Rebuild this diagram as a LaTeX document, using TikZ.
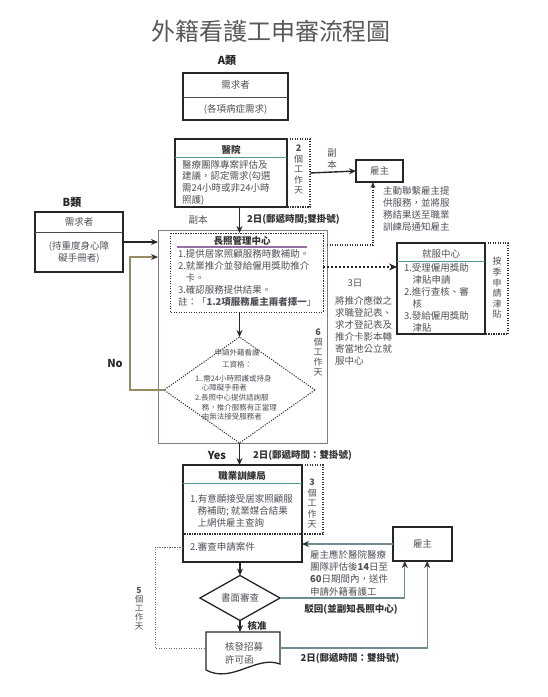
\documentclass[tikz,border=0pt]{standalone}
\usepackage{fontspec}
\setmainfont{Noto Sans CJK TC}
\usetikzlibrary{arrows.meta,shapes.geometric,calc}
\definecolor{txtc}{RGB}{80,80,88}
\definecolor{tealc}{RGB}{80,150,150}
\definecolor{purc}{RGB}{150,110,165}
\definecolor{outc}{RGB}{135,120,145}
\definecolor{olivec}{RGB}{150,140,100}
\definecolor{lnc}{RGB}{110,140,145}
\begin{document}
\begin{tikzpicture}[x=1pt,y=-1pt,
  every node/.style={inner sep=0pt, outer sep=0pt},
  boxs/.style={draw=black!85, line width=1.3pt, anchor=north west},
  ghost/.style={anchor=north west},
  tx/.style={text=txtc, font=\fontsize{9.5}{12}\selectfont, align=left},
  txc/.style={text=txtc, font=\fontsize{9.5}{12}\selectfont, align=center},
  ttl/.style={text=black!80, font=\fontsize{9.5}{12}\selectfont\bfseries},
  vt/.style={text=txtc, font=\fontsize{9}{10.5}\selectfont, align=center},
  lbl/.style={text=black!85, font=\fontsize{11}{13}\selectfont\bfseries},
  arr/.style={draw=black!85, line width=1.4pt, -{Stealth[length=7pt,width=6pt]}},
  thinarr/.style={line width=1.1pt, -{Stealth[length=7pt,width=6pt,color=black!80]}},
  dots/.style={draw=black!80, line width=1.2pt, dash pattern=on 1.2pt off 1.3pt},
  sep/.style={draw=tealc, line width=1pt}
]
\useasboundingbox (0,0) rectangle (548,697);

% title
\node[text=black!65, font=\fontsize{24}{26}\selectfont] (title) at (271,31) {外籍看護工申審流程圖};
\node[lbl] (alab) at (227,60) {A類};

% A box
\node[boxs, minimum width=105, minimum height=47] (A) at (183,73) {};
\draw[line width=0.8pt, black!70] (183,97) -- (288,97);
\node[txc] (a1) at (235.5,85) {需求者};
\node[txc] (a2) at (235.5,109) {(各項病症需求)};

% hospital
\node[boxs, minimum width=112, minimum height=68] (H) at (175,139) {};
\node[ttl] (h0) at (231,150) {醫院};
\draw[sep] (175,157) -- (287,157);
\node[tx, anchor=north west, font=\fontsize{9.5}{11.8}\selectfont] (h1) at (182,160) {醫療團隊專案評估及\\建議，認定需求(勾選\\需24小時或非24小時\\照護)};
\node[ghost, minimum width=23, minimum height=68] (H2) at (287,139) {};
\draw[dots] (H2.north west) -- (H2.north east) -- (H2.south east) -- (H2.south west);
\node[vt] (h2t) at (298.5,170) {\textbf{2}\\個\\工\\作\\天};

% employer top
\node[boxs, minimum width=47, minimum height=22] (E1) at (356,160) {};
\node[txc] (e1t) at (E1.center) {雇主};
\draw[arr] (H2.east) -- (E1.west);
\node[txc] (fb1) at (332,159) {副\\本};
\node[tx, anchor=north west] (e1note) at (383,187) {主動聯繫雇主提\\供服務，並將服\\務結果送至職業\\訓練局通知雇主};

% B
\node[lbl] (blab) at (72,202) {B類};
\node[boxs, minimum width=88, minimum height=60] (B) at (35,212) {};
\draw[line width=0.8pt, black!70] (35,232) -- (123,232);
\node[txc] (b1) at (79,222) {需求者};
\node[txc] (b2) at (79,252) {(持重度身心障\\礙手冊者)};

% long-term care outer and inner
\node[ghost, draw=outc, line width=1pt, minimum width=169, minimum height=213] (LTC) at (158,230) {};
\node[ghost, minimum width=153, minimum height=79] (LTCin) at (170,233) {};
\draw[dots, line width=1pt] (LTCin.north west) rectangle (LTCin.south east);
\node[ttl] (l0) at (242,241) {長照管理中心};
\draw[purc, line width=1.2pt] (177,247) -- (307,247);
\node[tx, anchor=north west] (l1) at (178,249) {1.提供居家照顧服務時數補助。\\2.就業推介並發給僱用獎助推介\\\hspace*{0.8em}卡。\\3.確認服務提供結果。\\註：「\textbf{1.2項服務雇主兩者擇一}」};

% diamond
\node[diamond, minimum width=151, minimum height=106, dots, line width=1pt] (D) at (239.5,390) {};
\node[text=txtc, font=\fontsize{7.5}{12}\selectfont, align=center] (d1) at (237,359) {申請外籍看護\\工資格：};
\node[text=txtc, font=\fontsize{7.5}{9.6}\selectfont, align=left, anchor=north west] (d2) at (195,375) {1..需24小時照護或持身\\\hspace*{0.9em}心障礙手冊者\\2.長照中心提供諮詢服\\\hspace*{0.9em}務，推介服務有正當理\\\hspace*{0.9em}由無法接受服務者};
\node[vt, font=\fontsize{9}{10}\selectfont] (d6) at (318,353) {\textbf{6}\\個\\工\\作\\天};

% hospital -> LTC
\draw[arr] (H.south -| D.north) -- (LTCin.north -| D.north);
\node[txc] (fb2) at (198,220) {副本};
\node[tx, anchor=west, text=black!80, font=\fontsize{9.5}{12}\selectfont\bfseries] (m1) at (247,220) {2日(郵遞時間;雙掛號)};

% B -> LTC
\draw[arr] (B.east) -- (B.east -| LTC.west);

% No loop
\coordinate (p3) at (130,257);
\draw[draw=olivec, thinarr] (D.west) -| (p3) -- (p3 -| LTC.west);
\node[lbl] (no) at (115,363) {No};

% LTC -> diamond
\draw[arr] (LTCin.south -| D.north) -- (D.north);

% LTC -> E1 dotted
\coordinate (p1) at (327,245);
\draw[dots, -{Stealth[length=6pt,width=5pt]}] (p1) -| ($(E1.south west)!0.36!(E1.south east)$);

% employment service center
\node[boxs, minimum width=88, minimum height=91] (JF) at (397,243) {};
\node[txc] (j0) at (441,254) {就服中心};
\draw[sep] (397,261) -- (485,261);
\node[tx, anchor=north west] (j1) at (404,263) {1.受理僱用獎助\\\hspace*{0.9em}津貼申請\\2.進行查核、審\\\hspace*{0.9em}核\\3.發給僱用獎助\\\hspace*{0.9em}津貼};
\node[ghost, minimum width=23, minimum height=91] (JF2) at (485,243) {};
\draw[dots] (JF2.north west) -- (JF2.north east) -- (JF2.south east) -- (JF2.south west);
\node[vt, font=\fontsize{9}{10.6}\selectfont] (j2t) at (497,288) {按\\季\\申\\請\\津\\貼};

\coordinate (p2) at (323,267);
\draw[draw=black!85, line width=2.2pt, dash pattern=on 2pt off 2pt, -{Stealth[length=8pt,width=7pt]}] (p2) -- (p2 -| JF.west);
\node[txc] (d3) at (355,283) {3日};
\node[tx, anchor=north west] (d3t) at (335,296) {將推介應徵之\\求職登記表、\\求才登記表及\\推介卡影本轉\\寄當地公立就\\服中心};

% Yes -> vocational training bureau
\node[boxs, minimum width=119, minimum height=97] (V) at (183,465) {};
\draw[arr] (D.south) -- (D.south |- V.north);
\node[lbl] (yes) at (217,455) {Yes};
\node[tx, anchor=west, text=black!80, font=\fontsize{9.5}{12}\selectfont\bfseries] (m2) at (253,455) {2日(郵遞時間：雙掛號)};
\node[ttl] (v0) at (242,476) {職業訓練局};
\draw[sep] (183,483) -- (302,483);
\node[tx, anchor=north west] (v1) at (190,494) {1.有意願接受居家照顧服\\\hspace*{0.8em}務補助; 就業媒合結果\\\hspace*{0.8em}上網供雇主查詢};
\node[ghost, minimum width=21, minimum height=69] (V2) at (302,465) {};
\draw[dots] (V2.north west) -- (V2.north east) -- (V2.south east) -- (V.west |- V2.south);
\node[vt] (v2t) at (312,504) {\textbf{3}\\個\\工\\作\\天};
\node[tx, anchor=north west] (v3) at (190,542) {2.審查申請案件};

% employer bottom
\node[boxs, minimum width=59, minimum height=34] (E2) at (393,527) {};
\node[txc] (e2t) at (E2.center) {雇主};
\draw[draw=lnc, thinarr] (E2.west) -- (E2.west -| V.east);
\node[tx, anchor=north west, font=\fontsize{9.5}{12.4}\selectfont] (e2note) at (310,550) {雇主應於醫院醫療\\團隊評估後\textbf{14}日至\\\textbf{60}日期間內，送件\\申請外籍看護工};

% written review
\node[diamond, draw=black!85, line width=1.3pt, minimum width=80, minimum height=45] (D2) at (240,598) {};
\node[txc] (d2t) at (D2.center) {書面審查};
\draw[arr] (V.south -| D2.north) -- (D2.north);
\draw[draw=lnc, thinarr] (D2.east) -| ($(E2.south west)!0.2!(E2.south east)$);
\node[ttl, font=\fontsize{9.5}{12}\selectfont\bfseries] (rej) at (351,609) {駁回(並副知長照中心)};

% permit letter
\node[ghost, minimum width=74, minimum height=32] (K) at (206,632) {};
\draw[draw=black!85, line width=1.3pt] (206,670) -- (206,632) -- (280,632) -- (280,664) .. controls (256,655) and (232,684) .. (206,670);
\node[tx, anchor=north west, font=\fontsize{9.5}{13.5}\selectfont] (k1) at (225,642) {核發招募\\許可函};
\draw[arr] (D2.south) -- (D2.south |- K.north);
\node[ttl] (ok) at (257,626) {核准};
\draw[draw=lnc, thinarr] (K.east) -| ($(E2.south west)!0.58!(E2.south east)$);
\node[ttl] (m3) at (350,658) {2日(郵遞時間：雙掛號)};

% 5 days loop
\coordinate (p4) at (155,547);
\draw[dots, line width=1pt, draw=black!60] (p4 -| V.west) -- (p4) |- (K.west);
\node[vt, font=\fontsize{8.5}{9}\selectfont] (v5t) at (139,609) {\textbf{5}\\個\\工\\作\\天};

\end{tikzpicture}
\end{document}
